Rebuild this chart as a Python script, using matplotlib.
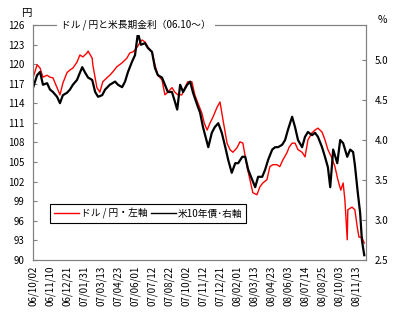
import numpy as np
import matplotlib
matplotlib.use('Agg')
import matplotlib.pyplot as plt

plt.rcParams['font.family'] = ['Noto Sans CJK JP', 'DejaVu Sans']
plt.rcParams['font.size'] = 7

# business-day index (0 = 06/10/02), tick every 29 days
tick_labels = ['06/10/02', '06/11/10', '06/12/21', '07/01/31', '07/03/13',
               '07/04/23', '07/06/01', '07/07/12', '07/08/22', '07/10/02',
               '07/11/12', '07/12/21', '08/02/01', '08/03/13', '08/04/23',
               '08/06/03', '08/07/14', '08/08/25', '08/10/03', '08/11/13']

usdjpy_day = [0, 7, 12, 17, 24, 29, 34, 41, 46, 51, 58, 63, 68, 75, 80, 85, 92, 94,
              101, 102, 109, 114, 119, 126, 131, 136, 143, 152, 160, 165, 171, 177,
              183, 186, 191, 196, 203, 208, 213, 220, 225, 230, 237, 242, 247, 254,
              259, 264, 271, 276, 281, 288, 292, 297, 302, 307, 314, 319, 324, 331,
              336, 341, 348, 353, 358, 365, 370, 375, 382, 387, 392, 399, 404, 409,
              416, 421, 426, 433, 437, 442, 447, 452, 459, 464, 469, 476, 481, 486,
              493, 498, 503, 510, 515, 520, 525, 529, 532, 536, 537, 544, 549, 553,
              556, 561, 565]
usdjpy = [117.9, 119.9, 119.4, 118.0, 118.3, 118.0, 117.9, 116.4, 115.3, 117.1,
          118.7, 119.1, 119.4, 120.3, 121.4, 121.1, 121.7, 122.0, 120.9, 119.9,
          116.4, 115.7, 117.3, 117.9, 118.3, 118.8, 119.6, 120.2, 120.9, 121.7,
          121.9, 122.5, 123.4, 123.7, 123.4, 122.6, 121.9, 119.9, 118.3, 117.6,
          115.3, 115.7, 116.4, 115.7, 115.3, 115.3, 116.4, 117.3, 117.3, 115.3,
          114.1, 112.5, 111.0, 109.9, 111.0, 111.9, 113.4, 114.2, 111.5, 107.9,
          106.9, 106.5, 107.2, 108.1, 107.9, 104.3, 102.3, 100.3, 100.0, 101.2,
          101.8, 102.3, 104.3, 104.6, 104.6, 104.3, 105.3, 106.4, 107.3, 107.9,
          107.9, 106.9, 106.5, 105.8, 108.4, 109.5, 109.9, 110.2, 109.6, 108.4,
          106.9, 105.6, 104.3, 102.3, 100.7, 101.8, 99.2, 93.1, 97.7, 98.1,
          97.7, 95.1, 93.5, 93.5, 92.6]

ust10_day = [0, 7, 12, 17, 24, 29, 34, 41, 46, 51, 58, 63, 68, 75, 80, 84, 89, 94,
             101, 106, 111, 118, 123, 131, 140, 145, 152, 157, 162, 169, 174, 179,
             184, 191, 196, 203, 208, 213, 220, 225, 230, 237, 242, 246, 251, 256,
             263, 268, 273, 280, 285, 290, 299, 305, 310, 316, 322, 328, 333, 339,
             345, 350, 357, 362, 367, 374, 379, 384, 391, 396, 401, 408, 413, 418,
             425, 430, 435, 442, 447, 452, 459, 464, 469, 476, 481, 486, 493, 498,
             503, 507, 512, 519, 524, 529, 536, 541, 546, 549, 554, 558, 561, 565]
ust10 = [4.65, 4.81, 4.85, 4.69, 4.71, 4.63, 4.60, 4.54, 4.46, 4.56, 4.59, 4.63,
         4.69, 4.75, 4.84, 4.91, 4.84, 4.78, 4.75, 4.60, 4.54, 4.56, 4.63, 4.69,
         4.73, 4.69, 4.66, 4.73, 4.85, 4.98, 5.06, 5.34, 5.19, 5.21, 5.15, 5.10,
         4.90, 4.81, 4.78, 4.69, 4.60, 4.60, 4.48, 4.38, 4.69, 4.60, 4.69, 4.73,
         4.59, 4.44, 4.34, 4.16, 3.91, 4.09, 4.16, 4.21, 4.09, 3.91, 3.75, 3.59,
         3.71, 3.71, 3.79, 3.79, 3.63, 3.50, 3.41, 3.54, 3.54, 3.63, 3.75, 3.88,
         3.91, 3.91, 3.94, 4.00, 4.13, 4.29, 4.16, 4.00, 3.91, 4.04, 4.10, 4.06,
         4.09, 4.04, 3.91, 3.79, 3.66, 3.41, 3.88, 3.71, 4.00, 3.96, 3.79, 3.88,
         3.85, 3.69, 3.34, 3.09, 2.75, 2.56]

left_ticks = np.arange(90, 127, 3)
right_ticks = [2.5, 3.0, 3.5, 4.0, 4.5, 5.0]

fig = plt.figure(figsize=(4, 3.22), dpi=100)
ax = fig.add_axes([0.0825, 0.1925, 0.8325, 0.73])
ax2 = ax.twinx()

l1, = ax.plot(usdjpy_day, usdjpy, color='red', lw=1.0, label='ドル / 円・左軸')
l2, = ax2.plot(ust10_day, ust10, color='black', lw=1.6, label='米10年債･右軸')

ax.set_xlim(0, 568)
ax.set_ylim(90, 126)
ax2.set_ylim(2.5, 5.4375)
ax.set_yticks(left_ticks)
ax2.set_yticks(right_ticks)
ax2.set_yticklabels([f'{v:.1f}' for v in right_ticks])
ax.set_xticks([i * 29 for i in range(len(tick_labels))])
ax.set_xticklabels(tick_labels, rotation=90)

ax.tick_params(axis='y', direction='in', length=3, pad=6, color='#808080')
ax2.tick_params(axis='y', direction='in', length=3, pad=6, color='#808080')
ax.tick_params(axis='x', length=0, pad=4)
for a in (ax, ax2):
    for s in a.spines.values():
        s.set_color('#808080')

ax.text(-0.02, 1.03, '円', transform=ax.transAxes, ha='center', va='bottom', fontsize=7.5)
ax2.text(1.05, 1.0, '%', transform=ax2.transAxes, ha='center', va='bottom', fontsize=7.5)
ax2.text(0.31, 1.0, 'ドル / 円と米長期金利（06.10～）', transform=ax2.transAxes,
         ha='center', va='center', fontsize=7,
         bbox=dict(facecolor='white', edgecolor='none', pad=3))

leg = ax2.legend(handles=[l1, l2], loc='lower left', bbox_to_anchor=(0.051, 0.157),
                 ncol=2, frameon=True, fancybox=False, edgecolor='black',
                 framealpha=1, borderaxespad=0, handlelength=2.6, columnspacing=0.3,
                 handletextpad=0.2, fontsize=7)
leg.get_frame().set_linewidth(0.8)
for h in leg.get_lines():
    h.set_linewidth(1.0)

fig.savefig('out.png', dpi=100)
